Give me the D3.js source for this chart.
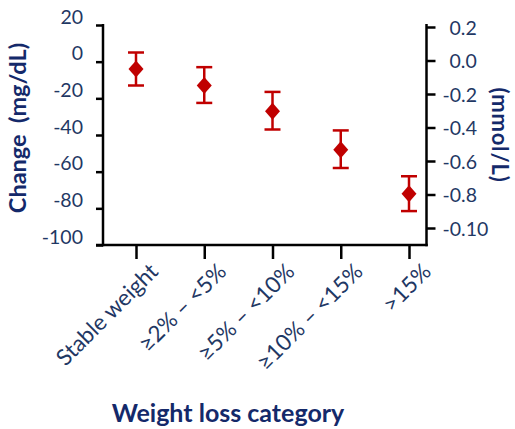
<!DOCTYPE html>
<html>
<head>
<meta charset="utf-8">
<script src="https://cdn.jsdelivr.net/npm/d3@7/dist/d3.min.js"></script>
<style>
  html, body { margin: 0; padding: 0; background: #fff; }
  svg { display: block; }
  text { font-family: Lato, "Open Sans", sans-serif; }
</style>
</head>
<body>
<svg id="chart" width="515" height="429"></svg>
<script>
// Weight loss categories and change in value (mg/dL): mean with lower/upper bounds
const categories = ["Stable weight", "\u22652% \u2013 <5%", "\u22655% \u2013 <10%", "\u226510% \u2013 <15%", ">15%"];
const meanChange = [-4, -13, -27, -48, -72];
const lowerBound = [-13, -22.5, -37, -58, -81.5];
const upperBound = [5, -3, -16.5, -37.5, -62.5];

// Axis ticks
const leftTicks = [20, 0, -20, -40, -60, -80, -100];
const leftTickLabels = ["20", "0", "-20", "-40", "-60", "-80", "-100"];
const rightTicks = [0.2, 0.0, -0.2, -0.4, -0.6, -0.8, -1.0];
const rightTickLabels = ["0.2", "0.0", "-0.2", "-0.4", "-0.6", "-0.8", "-0.10"];

const textColor = "#1f3864";
const titleColor = "#14296a";
const markColor = "#c00000";

const svg = d3.select("#chart");

const x = d3.scalePoint().domain(categories).range([136, 409]);
const yL = d3.scaleLinear().domain([-100, 20]).range([245, 25]);
const yR = d3.scaleLinear().domain([-1.0, 0.2]).range([228, 27]);

const leftX = 103, rightX = 426.5;

// Left axis
const gL = svg.append("g").attr("transform", `translate(${leftX},0)`)
  .call(d3.axisLeft(yL).tickValues(leftTicks).tickSize(7).tickSizeOuter(0).tickPadding(13)
    .tickFormat((d, i) => leftTickLabels[i]));
gL.select(".domain").remove();
gL.selectAll(".tick line").attr("stroke", "#000").attr("stroke-width", 2.5);
gL.selectAll(".tick text").attr("fill", textColor).attr("font-size", 19.5).attr("dy", "-0.1em");

// Right axis
const gR = svg.append("g").attr("transform", `translate(${rightX},0)`)
  .call(d3.axisRight(yR).tickValues(rightTicks).tickSize(9).tickSizeOuter(0)
    .tickFormat((d, i) => rightTickLabels[i]));
gR.select(".domain").remove();
gR.selectAll(".tick line").attr("stroke", "#000").attr("stroke-width", 2.5);
gR.selectAll(".tick text").attr("fill", textColor).attr("font-size", 19.5)
  .attr("x", (d, i) => rightTickLabels[i].startsWith("-") ? 16 : 23)
  .attr("dy", "0.36em");

// Bottom axis with slanted category labels
const gB = svg.append("g").attr("transform", `translate(0,${yL(-100)})`)
  .call(d3.axisBottom(x).tickSize(14).tickSizeOuter(0));
gB.select(".domain").remove();
gB.selectAll(".tick line").attr("stroke", "#000").attr("stroke-width", 2.5);
gB.selectAll(".tick text")
  .attr("fill", textColor).attr("font-size", 22.5)
  .attr("text-anchor", "end")
  .attr("y", 0).attr("dy", 0)
  .attr("transform", "translate(23,28) rotate(-45)");

// Spines
const spines = svg.append("g").attr("stroke", "#000").attr("stroke-width", 2.5).attr("fill", "none");
spines.append("line").attr("x1", leftX).attr("x2", leftX).attr("y1", yL(20) - 1).attr("y2", yL(-100) + 1.25);
spines.append("line").attr("x1", leftX - 7).attr("x2", rightX + 1.25).attr("y1", yL(-100)).attr("y2", yL(-100));
spines.append("line").attr("x1", rightX).attr("x2", rightX).attr("y1", yL(20) - 1).attr("y2", yL(-100) + 1.25);

// Error bars and diamonds
const pts = categories.map((c, i) => ({ c, m: meanChange[i], lo: lowerBound[i], hi: upperBound[i] }));
const marks = svg.append("g");
const bars = marks.selectAll("g.err").data(pts).join("g").attr("class", "err")
  .attr("stroke", markColor).attr("stroke-width", 2.5);
bars.append("line").attr("x1", d => x(d.c)).attr("x2", d => x(d.c))
  .attr("y1", d => yL(d.hi)).attr("y2", d => yL(d.lo));
bars.append("line").attr("x1", d => x(d.c) - 8).attr("x2", d => x(d.c) + 8)
  .attr("y1", d => yL(d.hi)).attr("y2", d => yL(d.hi));
bars.append("line").attr("x1", d => x(d.c) - 8).attr("x2", d => x(d.c) + 8)
  .attr("y1", d => yL(d.lo)).attr("y2", d => yL(d.lo));

const diamond = (cx, cy) => `M${cx},${cy - 8.5}L${cx + 7.5},${cy}L${cx},${cy + 8.5}L${cx - 7.5},${cy}Z`;
marks.selectAll("path.pt").data(pts).join("path").attr("class", "pt")
  .attr("d", d => diamond(x(d.c), yL(d.m))).attr("fill", markColor);

// Axis titles
svg.append("text")
  .attr("transform", `translate(26,128) rotate(-90)`)
  .attr("text-anchor", "middle").attr("fill", titleColor)
  .attr("font-size", 23.5).attr("font-weight", "bold")
  .attr("xml:space", "preserve").style("white-space", "pre")
  .text("Change  (mg/dL)");

svg.append("text")
  .attr("transform", `translate(492,135) rotate(90)`)
  .attr("text-anchor", "middle").attr("fill", titleColor)
  .attr("font-size", 22).attr("font-weight", "bold")
  .attr("letter-spacing", 0.8)
  .text("(mmol/L)");

svg.append("text")
  .attr("x", 228).attr("y", 422)
  .attr("text-anchor", "middle").attr("fill", titleColor)
  .attr("font-size", 25).attr("font-weight", "bold")
  .text("Weight loss category");
</script>
</body>
</html>
